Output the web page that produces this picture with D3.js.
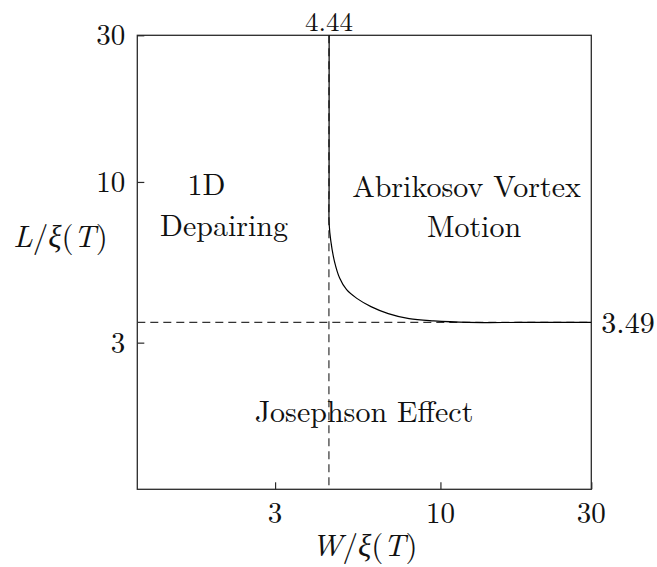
<!DOCTYPE html>
<html>
<head>
<meta charset="utf-8">
<script src="https://cdn.jsdelivr.net/npm/d3@7"></script>
<style>
  body { margin: 0; background: #fff; }
  text { font-family: "Latin Modern Roman", "Liberation Serif", serif; fill: #111; }
</style>
</head>
<body>
<svg id="chart" width="657" height="567"></svg>
<script>
// Tick values on both log axes
const xTicks = [3, 10, 30];
const yTicks = [3, 10, 30];

// Critical dimensions (in units of the coherence length)
const widthThreshold = 4.44;   // W/ξ(T) below which vortices cannot enter
const lengthThreshold = 3.49;  // L/ξ(T) below which the bridge acts as a Josephson link

// Boundary between depairing and vortex regimes, W/ξ(T) vs L/ξ(T)
const boundaryW = [4.447, 4.446, 4.445, 4.445, 4.447, 4.50, 4.62, 4.80, 5.05, 5.44, 6.03, 6.84, 7.96, 9.52, 12.26, 18, 30];
const boundaryL = [30, 20, 14, 9.42, 7.33, 6.44, 5.53, 4.87, 4.46, 4.18, 3.93, 3.73, 3.59, 3.53, 3.492, 3.49, 3.49];

// Regime names
const regionLines = [
  ["1D", "Depairing"],
  ["Abrikosov Vortex", "Motion"],
  ["Josephson Effect"]
];

const svg = d3.select("#chart");
const margin = { left: 137.3, top: 35.3 };
const size = 454;

const x = d3.scaleLog().domain([1.1, 30]).range([margin.left, margin.left + size]);
const y = d3.scaleLog().domain([1, 30]).range([margin.top + size, margin.top]);

const plot = svg.append("g");

// Frame
plot.append("rect")
  .attr("x", margin.left).attr("y", margin.top)
  .attr("width", size).attr("height", size)
  .attr("fill", "none").attr("stroke", "#2a2a2a").attr("stroke-width", 1.3);

// Inward ticks on the bottom and left axes
const xAxis = d3.axisTop(x).tickValues(xTicks).tickSize(7).tickFormat("");
const yAxis = d3.axisRight(y).tickValues(yTicks).tickSize(7).tickFormat("");
plot.append("g").attr("transform", `translate(0,${margin.top + size})`).call(xAxis)
  .call(g => g.select(".domain").remove())
  .selectAll("line").attr("stroke", "#2a2a2a").attr("stroke-width", 1.2);
plot.append("g").attr("transform", `translate(${margin.left},0)`).call(yAxis)
  .call(g => g.select(".domain").remove())
  .selectAll("line").attr("stroke", "#2a2a2a").attr("stroke-width", 1.2);

// Tick labels
svg.append("g").selectAll("text").data(xTicks).join("text")
  .attr("x", d => x(d)).attr("y", 523)
  .attr("text-anchor", "middle").attr("font-size", 29)
  .text(d => d3.format("d")(d));
svg.append("g").selectAll("text").data(yTicks).join("text")
  .attr("x", margin.left - 12).attr("y", d => y(d)).attr("dy", "0.34em")
  .attr("text-anchor", "end").attr("font-size", 29)
  .text(d => d3.format("d")(d));

// Dashed threshold lines
plot.append("line")
  .attr("x1", x(widthThreshold)).attr("x2", x(widthThreshold))
  .attr("y1", margin.top).attr("y2", margin.top + size)
  .attr("stroke", "#333").attr("stroke-width", 1.2).attr("stroke-dasharray", "8,5");
plot.append("line")
  .attr("x1", margin.left).attr("x2", margin.left + size)
  .attr("y1", y(lengthThreshold)).attr("y2", y(lengthThreshold))
  .attr("stroke", "#333").attr("stroke-width", 1.2).attr("stroke-dasharray", "8,5");

// Threshold values
svg.append("text")
  .attr("x", x(widthThreshold)).attr("y", margin.top - 4)
  .attr("text-anchor", "middle").attr("font-size", 27)
  .text(d3.format(".2f")(widthThreshold));
svg.append("text")
  .attr("x", margin.left + size + 10).attr("y", y(lengthThreshold)).attr("dy", "0.34em")
  .attr("text-anchor", "start").attr("font-size", 30)
  .text(d3.format(".2f")(lengthThreshold));

// Boundary curve
const boundary = d3.zip(boundaryW, boundaryL);
svg.append("defs").append("clipPath").attr("id", "plot-clip")
  .append("rect").attr("x", margin.left).attr("y", margin.top - 3)
  .attr("width", size).attr("height", size + 3);
plot.append("path")
  .datum(boundary)
  .attr("clip-path", "url(#plot-clip)")
  .attr("fill", "none").attr("stroke", "#000").attr("stroke-width", 1.2)
  .attr("d", d3.line().x(d => x(d[0])).y(d => y(d[1])).curve(d3.curveCatmullRom.alpha(0.5)));

// Regime labels
const labelFont = 30;
const regionPlacement = [
  [[206.5, 195], [224, 236]],
  [[466.5, 196.7], [474, 237.3]],
  [[364, 421.7]]
];
regionLines.forEach((lines, i) => {
  lines.forEach((t, j) => {
    svg.append("text")
      .attr("x", regionPlacement[i][j][0]).attr("y", regionPlacement[i][j][1])
      .attr("text-anchor", "middle").attr("font-size", labelFont)
      .text(t);
  });
});

// Axis titles
function mathTitle(sel, v) {
  sel.append("tspan").attr("font-style", "italic").text(v);
  sel.append("tspan").text("/");
  sel.append("tspan").attr("font-style", "italic").text("ξ");
  sel.append("tspan").text("(");
  sel.append("tspan").attr("font-style", "italic").text("T");
  sel.append("tspan").text(")");
}
svg.append("text").attr("x", 364.5).attr("y", 556)
  .attr("text-anchor", "middle").attr("font-size", 31)
  .call(mathTitle, "W");
svg.append("text").attr("x", 60.5).attr("y", 246.7)
  .attr("text-anchor", "middle").attr("font-size", 31)
  .call(mathTitle, "L");
</script>
</body>
</html>
